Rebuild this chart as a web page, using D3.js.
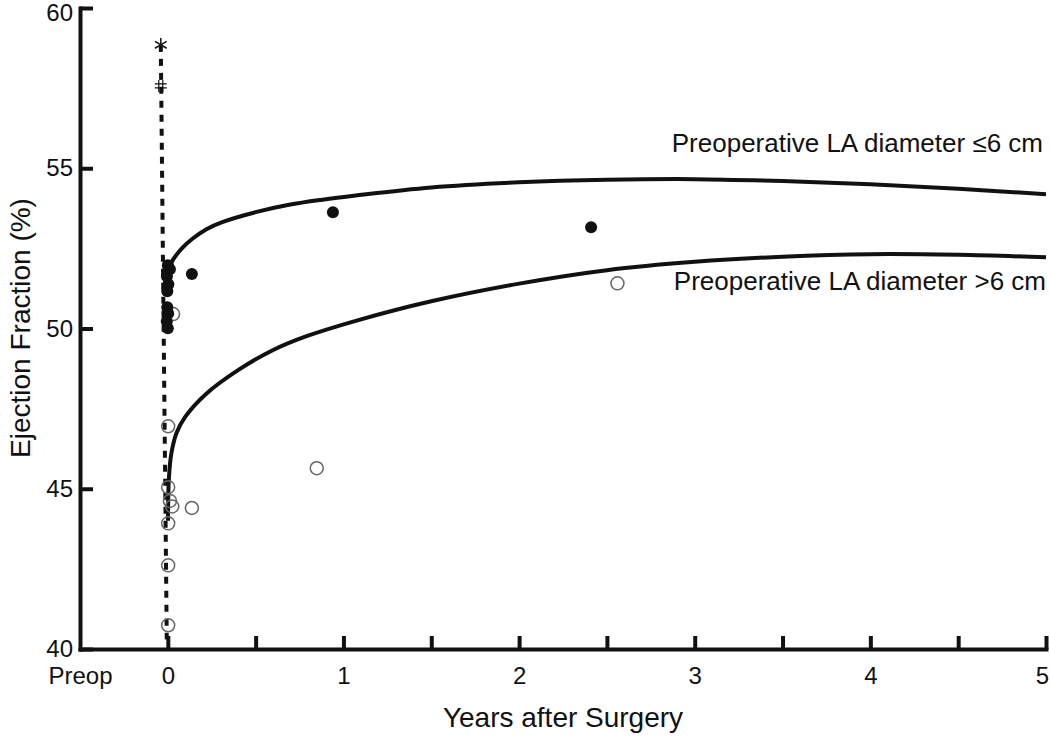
<!DOCTYPE html>
<html>
<head>
<meta charset="utf-8">
<script src="https://cdn.jsdelivr.net/npm/d3@7"></script>
<style>
  body { margin: 0; background: #fff; }
  svg { display: block; font-family: "Liberation Sans", Arial, sans-serif; }
</style>
</head>
<body>
<div id="viz"></div>
<script>
"use strict";

// tick values
let xTicks = [-0.5, 0, 0.5, 1, 1.5, 2, 2.5, 3, 3.5, 4, 4.5, 5];
let yTicks = [40, 45, 50, 55, 60];

// fitted curve, preoperative LA diameter <= 6 cm  [years, EF]
let smallLaCurve = [
  [0.006, 51.9], [0.03, 52.15], [0.08, 52.5], [0.14, 52.8], [0.22, 53.1],
  [0.31, 53.32], [0.5, 53.63], [0.69, 53.86], [0.88, 54.02], [1.07, 54.15],
  [1.5, 54.4], [2.0, 54.56], [2.5, 54.64], [3.0, 54.66], [3.5, 54.6],
  [4.0, 54.5], [4.5, 54.36], [5.0, 54.19]
];

// fitted curve, preoperative LA diameter > 6 cm
let largeLaCurve = [
  [0.001, 44.0], [0.006, 45.3], [0.02, 46.1], [0.05, 46.75], [0.1, 47.25],
  [0.216, 47.95], [0.4, 48.7], [0.6, 49.33], [0.79, 49.76], [1.07, 50.24],
  [1.5, 50.85], [2.0, 51.4], [2.5, 51.82], [3.0, 52.08], [3.5, 52.24],
  [4.0, 52.32], [4.5, 52.3], [5.0, 52.22]
];

// observed EF, LA <= 6 cm (filled)
let smallLaPoints = [
  [0.0, 51.97], [0.012, 51.85], [-0.005, 51.63], [0.003, 51.38], [-0.003, 51.16],
  [-0.003, 50.66], [0.002, 50.47], [-0.006, 50.23], [0.0, 50.01],
  [0.137, 51.7], [0.94, 53.63], [2.41, 53.16]
];

// observed EF, LA > 6 cm (open)
let largeLaPoints = [
  [0.03, 50.45], [0.002, 46.95], [0.002, 45.05], [0.012, 44.62], [0.025, 44.45],
  [0.002, 43.92], [0.137, 44.4], [0.848, 45.64], [2.56, 51.41],
  [0.002, 42.61], [0.002, 40.74]
];

// preoperative values and the dashed drop line
let preopStar = [-0.04, 58.85];
let preopHash = [-0.04, 57.57];
let dropLine = [[-0.04, 58.85], [-0.006, 40.3]];

let seriesLabels = ["Preoperative LA diameter \u22646 cm", "Preoperative LA diameter >6 cm"];

function initChart() {
  let width = 1050;
  let height = 736;

  let xScale = d3.scaleLinear().domain([-0.5, 5]).range([80, 1046]);
  let yScale = d3.scaleLinear().domain([40, 60]).range([649, 8]);

  let svg = d3.select("#viz")
              .append("svg")
              .attr("width", width)
              .attr("height", height);

  // x axis
  let xAxis = d3.axisBottom(xScale)
                .tickValues(xTicks)
                .tickSizeInner(-13)
                .tickSizeOuter(0)
                .tickPadding(18)
                .tickFormat(d => d === -0.5 ? "Preop" : (Number.isInteger(d) ? d : ""));

  let gx = svg.append("g")
              .attr("transform", "translate(0," + yScale(40) + ")")
              .call(xAxis);

  // y axis
  let yAxis = d3.axisLeft(yScale)
                .tickValues(yTicks)
                .tickSizeInner(-13)
                .tickSizeOuter(0)
                .tickPadding(7);

  let gy = svg.append("g")
              .attr("transform", "translate(" + xScale(-0.5) + ",0)")
              .call(yAxis);

  [gx, gy].forEach(g => {
    g.select(".domain").attr("stroke", "#111").attr("stroke-width", 4).attr("stroke-linecap", "square");
    g.selectAll(".tick line").attr("stroke", "#111").attr("stroke-width", 4);
    g.selectAll(".tick text").attr("font-size", "24px").attr("fill", "#111");
  });
  gx.selectAll(".tick").filter(d => d === -0.5).select("line").remove();
  gx.selectAll(".tick text").filter(d => d === 5).attr("dx", "-4");
  gy.selectAll(".tick text").filter(d => d === 60).attr("dy", "0.5em");

  // axis titles
  svg.append("text")
     .attr("x", 563)
     .attr("y", 727)
     .attr("text-anchor", "middle")
     .attr("font-size", "28px")
     .attr("fill", "#111")
     .text("Years after Surgery");

  svg.append("text")
     .attr("transform", "translate(30,328) rotate(-90)")
     .attr("text-anchor", "middle")
     .attr("font-size", "28px")
     .attr("fill", "#111")
     .text("Ejection Fraction (%)");

  let line = d3.line()
               .x(d => xScale(d[0]))
               .y(d => yScale(d[1]))
               .curve(d3.curveCatmullRom.alpha(0.5));

  // dashed drop line from preop values
  svg.append("path")
     .attr("d", d3.line().x(d => xScale(d[0])).y(d => yScale(d[1]))(dropLine))
     .attr("fill", "none")
     .attr("stroke", "#111")
     .attr("stroke-width", 4)
     .attr("stroke-dasharray", "7,7");

  // fitted curves
  [smallLaCurve, largeLaCurve].forEach(c => {
    svg.append("path")
       .attr("d", line(c))
       .attr("fill", "none")
       .attr("stroke", "#111")
       .attr("stroke-width", 4);
  });

  // open circles
  svg.selectAll("circle.open")
     .data(largeLaPoints)
     .enter()
     .append("circle")
     .attr("class", "open")
     .attr("cx", d => xScale(d[0]))
     .attr("cy", d => yScale(d[1]))
     .attr("r", 6.5)
     .attr("fill", "none")
     .attr("stroke", "#666")
     .attr("stroke-width", 1.5);

  // filled circles
  svg.selectAll("circle.filled")
     .data(smallLaPoints)
     .enter()
     .append("circle")
     .attr("class", "filled")
     .attr("cx", d => xScale(d[0]))
     .attr("cy", d => yScale(d[1]))
     .attr("r", 6)
     .attr("fill", "#111");

  // preop markers
  svg.append("path")
     .attr("transform", "translate(" + xScale(preopStar[0]) + "," + yScale(preopStar[1]) + ")")
     .attr("d", d3.symbol().type(d3.symbolAsterisk).size(130)())
     .attr("fill", "none")
     .attr("stroke", "#111")
     .attr("stroke-width", 1.5);

  svg.append("path")
     .attr("transform", "translate(" + xScale(preopHash[0]) + "," + yScale(preopHash[1]) + ")")
     .attr("d", "M-2,-6V6M2,-6V6M-6,-2H6M-6,2H6")
     .attr("fill", "none")
     .attr("stroke", "#111")
     .attr("stroke-width", 1.2);

  // series labels
  svg.append("text")
     .attr("x", 1043)
     .attr("y", 152)
     .attr("text-anchor", "end")
     .attr("font-size", "26px")
     .attr("fill", "#111")
     .text(seriesLabels[0]);

  svg.append("text")
     .attr("x", 1046)
     .attr("y", 290)
     .attr("text-anchor", "end")
     .attr("font-size", "26px")
     .attr("fill", "#111")
     .text(seriesLabels[1]);
}

initChart();
</script>
</body>
</html>
